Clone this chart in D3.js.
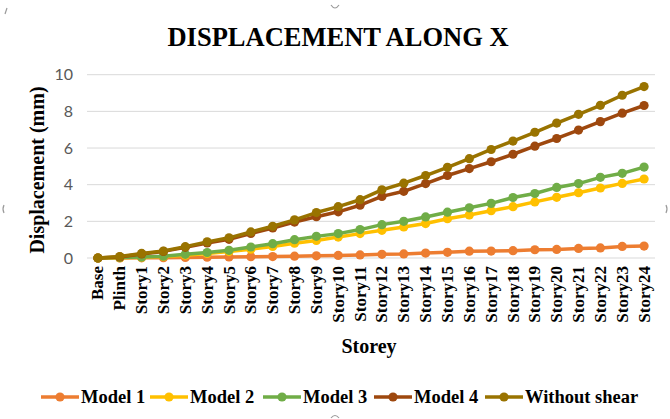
<!DOCTYPE html>
<html>
<head>
<meta charset="utf-8">
<script src="https://cdn.jsdelivr.net/npm/d3@7"></script>
<style>
  html, body { margin: 0; padding: 0; background: #fff; }
  svg { display: block; }
</style>
</head>
<body>
<svg id="chart" width="670" height="419"></svg>
<script>
const categories = ["Base","Plinth","Story1","Story2","Story3","Story4","Story5","Story6","Story7","Story8","Story9","Story10","Story11","Story12","Story13","Story14","Story15","Story16","Story17","Story18","Story19","Story20","Story21","Story22","Story23","Story24"];
const seriesNames = ["Model 1","Model 2","Model 3","Model 4","Without shear"];
const model1 = [0,0,0.01,0.02,0.03,0.04,0.06,0.07,0.08,0.10,0.12,0.14,0.17,0.20,0.22,0.27,0.31,0.37,0.38,0.40,0.45,0.47,0.52,0.55,0.63,0.65];
const model2 = [0,0.02,0.04,0.08,0.15,0.25,0.35,0.48,0.63,0.81,0.96,1.14,1.33,1.51,1.69,1.88,2.14,2.35,2.58,2.80,3.06,3.31,3.56,3.82,4.07,4.31];
const model3 = [0,0.03,0.05,0.10,0.20,0.30,0.42,0.60,0.78,1.00,1.18,1.33,1.55,1.82,2.00,2.24,2.50,2.74,2.98,3.30,3.52,3.85,4.06,4.40,4.62,4.96];
const model4 = [0,0.06,0.22,0.36,0.58,0.82,1.02,1.34,1.64,1.96,2.25,2.52,2.88,3.36,3.64,4.06,4.50,4.88,5.25,5.66,6.10,6.52,6.98,7.44,7.90,8.32];
const withoutShear = [0,0.08,0.25,0.38,0.62,0.88,1.10,1.42,1.73,2.08,2.48,2.80,3.18,3.72,4.08,4.50,4.95,5.42,5.92,6.38,6.86,7.36,7.84,8.33,8.88,9.35];
const yTicks = [0,2,4,6,8,10];
const colors = ["#ED7D31","#FFC000","#70AD47","#9E480E","#997300"];

const allSeries = [model1, model2, model3, model4, withoutShear].map((v, i) => ({name: seriesNames[i], values: v, color: colors[i]}));

const svg = d3.select("#chart");
const serif = "'Liberation Serif', 'Times New Roman', serif";

const x = d3.scalePoint().domain(categories).range([87, 655]).padding(0.5);
const y = d3.scaleLinear().domain([0, 10]).range([258, 74.7]);

// corner handles (decorative, faint)
const hg = svg.append("g").attr("fill","none").attr("stroke","#9a9a9a").attr("stroke-width",1.2);
hg.append("path").attr("d","M331,5 Q335,11 339,5");
hg.append("path").attr("d","M5,14 L7,8");
hg.append("path").attr("d","M4,205 Q2,209 4,213");
hg.append("path").attr("d","M666,205 Q668,209 666,213");
hg.append("path").attr("d","M331,418 Q335,413 339,418");

// gridlines
svg.append("g")
  .selectAll("line").data(yTicks).join("line")
  .attr("x1", 87).attr("x2", 655)
  .attr("y1", d => y(d)).attr("y2", d => y(d))
  .attr("stroke", "#d9d9d9").attr("stroke-width", 1);

// y axis labels
const yAxis = d3.axisLeft(y).tickValues(yTicks).tickSize(0).tickPadding(0);
const yg = svg.append("g").attr("transform", "translate(73,0)").call(yAxis);
yg.select(".domain").remove();
yg.selectAll("text")
  .attr("font-family", "Lato, 'Open Sans', sans-serif")
  .attr("font-size", 16).attr("fill", "#595959");

// x axis labels
const xAxis = d3.axisBottom(x).tickSize(0).tickPadding(0);
const xg = svg.append("g").attr("transform", `translate(0,${y(0)})`).call(xAxis);
xg.select(".domain").remove();
xg.selectAll("text")
  .attr("font-family", serif).attr("font-weight", "bold")
  .attr("font-size", 17).attr("fill", "#000")
  .attr("text-anchor", "end")
  .attr("dy", null).attr("y", 0)
  .attr("transform", "translate(5,8) rotate(-90)");

// lines
const line = d3.line().x((d, i) => x(categories[i])).y(d => y(d));
const sg = svg.append("g").selectAll("g").data(allSeries).join("g");
sg.append("path")
  .attr("d", d => line(d.values))
  .attr("fill", "none").attr("stroke", d => d.color)
  .attr("stroke-width", 3.5).attr("stroke-linejoin", "round");
sg.selectAll("circle").data(d => d.values.map((v, i) => ({v, i, color: d.color}))).join("circle")
  .attr("cx", d => x(categories[d.i])).attr("cy", d => y(d.v))
  .attr("r", 4.6).attr("fill", d => d.color);

// title
svg.append("text").attr("x", 338).attr("y", 46)
  .attr("text-anchor", "middle")
  .attr("font-family", serif).attr("font-weight", "bold")
  .attr("font-size", 26.5).attr("fill", "#000")
  .text("DISPLACEMENT ALONG X");

// axis titles
svg.append("text")
  .attr("transform", "translate(44,170) rotate(-90)")
  .attr("text-anchor", "middle")
  .attr("font-family", serif).attr("font-weight", "bold")
  .attr("font-size", 20).attr("fill", "#000")
  .text("Displacement (mm)");
svg.append("text").attr("x", 369).attr("y", 353)
  .attr("text-anchor", "middle")
  .attr("font-family", serif).attr("font-weight", "bold")
  .attr("font-size", 20).attr("fill", "#000")
  .text("Storey");

// legend
const legendX = [41, 150, 263, 374, 485];
const lg = svg.append("g").selectAll("g").data(allSeries).join("g")
  .attr("transform", (d, i) => `translate(${legendX[i]},397)`);
lg.append("line").attr("x1", 0).attr("x2", 38).attr("y1", 0).attr("y2", 0)
  .attr("stroke", d => d.color).attr("stroke-width", 3.5);
lg.append("circle").attr("cx", 19).attr("cy", 0).attr("r", 4.6).attr("fill", d => d.color);
lg.append("text").attr("x", 40).attr("y", 6)
  .attr("font-family", serif).attr("font-weight", "bold")
  .attr("font-size", 18.5).attr("fill", "#000")
  .text(d => d.name);
</script>
</body>
</html>
